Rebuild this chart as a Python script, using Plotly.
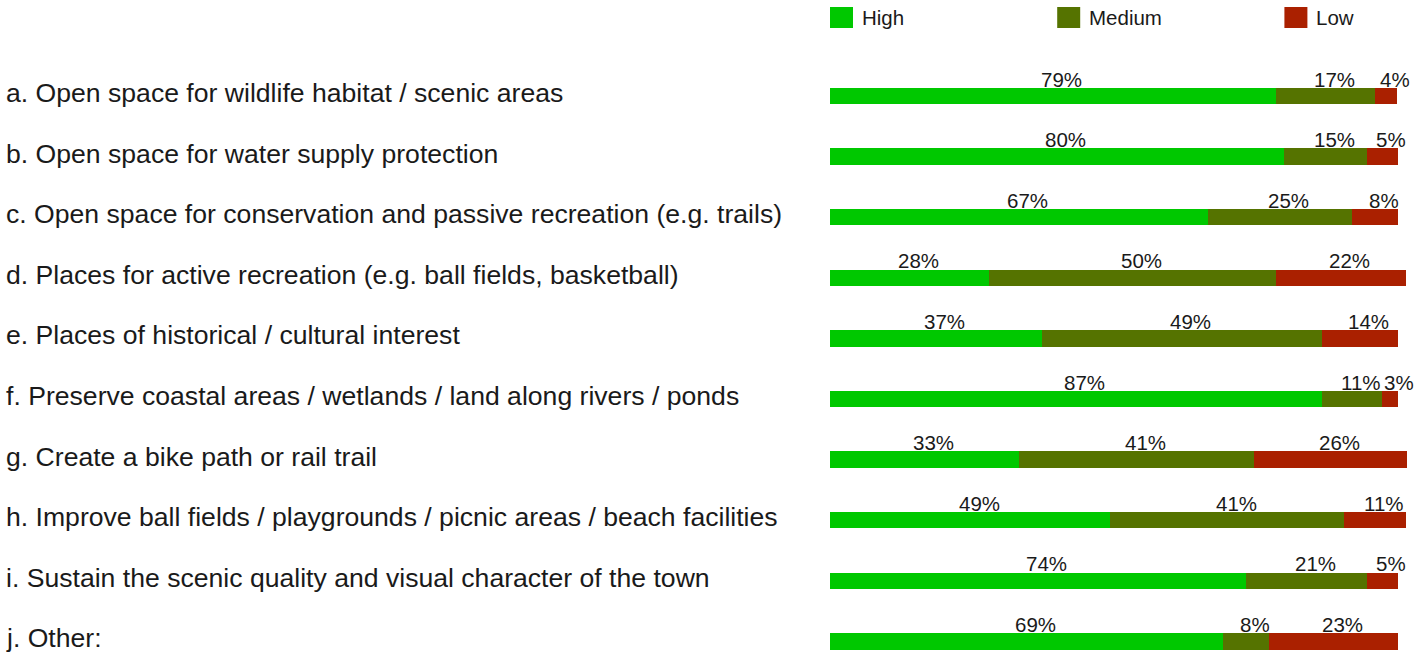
import plotly.graph_objects as go

categories = [
    "a. Open space for wildlife habitat / scenic areas",
    "b. Open space for water supply protection",
    "c. Open space for conservation and passive recreation (e.g. trails)",
    "d. Places for active recreation (e.g. ball fields, basketball)",
    "e. Places of historical / cultural interest",
    "f. Preserve coastal areas / wetlands / land along rivers / ponds",
    "g. Create a bike path or rail trail",
    "h. Improve ball fields / playgrounds / picnic areas / beach facilities",
    "i. Sustain the scenic quality and visual character of the town",
    "j. Other:",
]
series_names = ["High", "Medium", "Low"]
colors = ["#00c800", "#557300", "#aa2000"]

# bar lengths (percent)
high = [78.5, 79.9, 66.5, 28.0, 37.3, 86.6, 33.3, 49.3, 73.2, 69.2]
medium = [17.4, 14.6, 25.4, 50.5, 49.3, 10.6, 41.4, 41.2, 21.3, 8.1]
low = [4.0, 5.5, 8.1, 22.9, 13.4, 2.8, 26.8, 10.9, 5.5, 22.7]
# printed labels (percent)
high_lbl = [79, 80, 67, 28, 37, 87, 33, 49, 74, 69]
medium_lbl = [17, 15, 25, 50, 49, 11, 41, 41, 21, 8]
low_lbl = [4, 5, 8, 22, 14, 3, 26, 11, 5, 23]

W, H = 1427, 652
L, R = 830, 17
PX = 5.68  # pixels per percent
FONT = "Liberation Sans, Arial, sans-serif"
TXT = "#1a1a1a"

rows = list(range(len(categories)))
series = [high, medium, low]
labels = [high_lbl, medium_lbl, low_lbl]

fig = go.Figure()
for name, vals, col in zip(series_names, series, colors):
    fig.add_trace(go.Bar(
        x=vals, y=rows, orientation="h", name=name,
        marker=dict(color=col, line=dict(width=0)),
        width=0.272, showlegend=False, hoverinfo="skip",
    ))

annotations = []
for i in rows:
    start = 0.0
    for vals, lbl in zip(series, labels):
        v = vals[i]
        annotations.append(dict(
            x=start + v / 2, y=i, xref="x", yref="y",
            text=f"{lbl[i]}%", showarrow=False,
            xanchor="center", yanchor="middle",
            xshift=9, yshift=17,
            font=dict(family=FONT, size=20.5, color=TXT),
        ))
        start += v
    annotations.append(dict(
        x=-(L - 4) / (W - L - R), y=i, xref="paper", yref="y",
        text=categories[i], showarrow=False,
        xanchor="left", yanchor="middle", yshift=3,
        font=dict(family=FONT, size=26.6, color=TXT),
    ))

shapes = []
for k, (name, col) in enumerate(zip(series_names, colors)):
    x0 = k * 40
    shapes.append(dict(
        type="rect", xref="x", yref="paper",
        x0=x0, x1=x0 + 23 / PX,
        y0=1 - 28 / H, y1=1 - 7 / H,
        fillcolor=col, line=dict(width=0),
    ))
    annotations.append(dict(
        x=x0 + 30 / PX, y=1 - 17.5 / H, xref="x", yref="paper",
        text=name, showarrow=False, xanchor="left", yanchor="middle",
        font=dict(family=FONT, size=20.5, color=TXT),
    ))

fig.update_layout(
    width=W, height=H,
    margin=dict(l=L, r=R, t=0, b=0),
    barmode="stack",
    bargap=0,
    plot_bgcolor="white", paper_bgcolor="white",
    xaxis=dict(range=[0, (W - L - R) / PX], visible=False, fixedrange=True),
    yaxis=dict(range=[(H - 96) / 60.6, -96 / 60.6], visible=False, fixedrange=True),
    annotations=annotations,
    shapes=shapes,
    showlegend=False,
)

fig.write_html(
    "out.html",
    config={"displayModeBar": False},
    post_script="document.body.style.margin='0';document.body.style.overflow='hidden';",
)
